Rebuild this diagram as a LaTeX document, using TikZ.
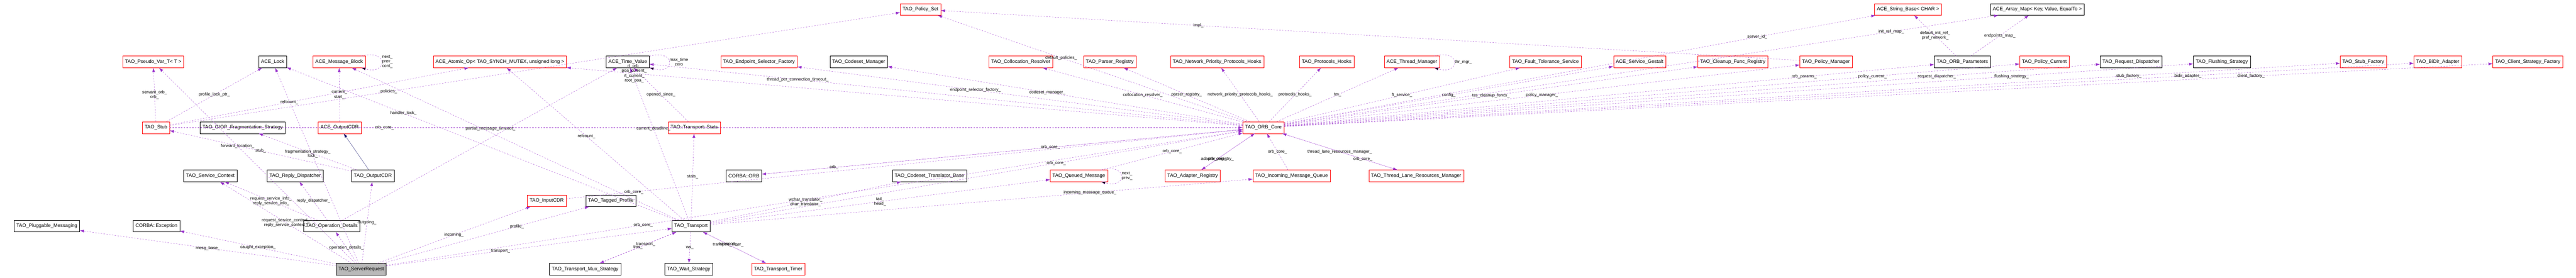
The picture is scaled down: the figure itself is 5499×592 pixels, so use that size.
\documentclass[tikz,border=0pt]{standalone}
\usepackage{fontspec}
\setmainfont{Liberation Sans}
\usetikzlibrary{arrows.meta}
\definecolor{edgepurple}{RGB}{153,50,204}
\definecolor{inhblue}{RGB}{25,25,112}
\tikzset{
  cls/.style={draw=black, fill=white, inner xsep=5pt, minimum height=25pt, font=\fontsize{10.5}{12}\selectfont},
  tcls/.style={cls, draw=red},
  focus/.style={cls, fill=gray!55},
  rel/.style={draw=edgepurple, dashed, -{Latex[length=9pt,width=6pt]}},
  inh/.style={draw=inhblue, -{Latex[length=9pt,width=6pt]}},
  lbl/.style={font=\fontsize{9}{10}\selectfont, align=center, inner sep=1pt}
}
\newcommand{\rel}[4][0.5]{\draw[rel] (#2) -- node[lbl, pos=#1]{#4} (#3);}
\begin{document}
\begin{tikzpicture}[x=1pt, y=-1pt]
  \useasboundingbox (0,0) rectangle (5499,592);
  % top row
  \node[tcls] (pset) at (1965,20) {TAO\_Policy\_Set};
  \node[tcls] (strbase) at (4073,20) {ACE\_String\_Base< CHAR >};
  \node[cls] (amap) at (4349,20) {ACE\_Array\_Map< Key, Value, EqualTo >};
  % second row
  \node[tcls] (pvar) at (327,132) {TAO\_Pseudo\_Var\_T< T >};
  \node[cls] (lock) at (582,132) {ACE\_Lock};
  \node[tcls] (mblk) at (724,132) {ACE\_Message\_Block};
  \node[tcls] (atomic) at (1067,132) {ACE\_Atomic\_Op< TAO\_SYNCH\_MUTEX, unsigned long >};
  \node[cls] (tval) at (1340,132) {ACE\_Time\_Value};
  \node[tcls] (esf) at (1620,132) {TAO\_Endpoint\_Selector\_Factory};
  \node[cls] (csmgr) at (1833,132) {TAO\_Codeset\_Manager};
  \node[tcls] (colres) at (2179,132) {TAO\_Collocation\_Resolver};
  \node[tcls] (preg) at (2369,132) {TAO\_Parser\_Registry};
  \node[tcls] (npph) at (2598,132) {TAO\_Network\_Priority\_Protocols\_Hooks};
  \node[tcls] (phooks) at (2832,132) {TAO\_Protocols\_Hooks};
  \node[tcls] (thrmgr) at (3014,132) {ACE\_Thread\_Manager};
  \node[tcls] (ftsvc) at (3299,132) {TAO\_Fault\_Tolerance\_Service};
  \node[tcls] (gestalt) at (3500,132) {ACE\_Service\_Gestalt};
  \node[tcls] (cleanup) at (3699,132) {TAO\_Cleanup\_Func\_Registry};
  \node[tcls] (pmgr) at (3898,132) {TAO\_Policy\_Manager};
  \node[cls] (oparams) at (4189,132) {TAO\_ORB\_Parameters};
  \node[tcls] (pcur) at (4364,132) {TAO\_Policy\_Current};
  \node[cls] (reqdisp) at (4549,132) {TAO\_Request\_Dispatcher};
  \node[cls] (flush) at (4743,132) {TAO\_Flushing\_Strategy};
  \node[tcls] (stubf) at (5045,132) {TAO\_Stub\_Factory};
  \node[tcls] (bidir) at (5204,132) {TAO\_BiDir\_Adapter};
  \node[tcls] (csf) at (5396,132) {TAO\_Client\_Strategy\_Factory};
  % third row
  \node[tcls] (stub) at (333,272) {TAO\_Stub};
  \node[cls] (frag) at (518,272) {TAO\_GIOP\_Fragmentation\_Strategy};
  \node[tcls] (aocdr) at (725,272) {ACE\_OutputCDR};
  \node[tcls] (stats) at (1482,272) {TAO::Transport::Stats};
  \node[tcls] (orbcore) at (2697,272) {TAO\_ORB\_Core};
  % fourth row
  \node[cls] (svcctx) at (449,375) {TAO\_Service\_Context};
  \node[cls] (rdisp) at (630,375) {TAO\_Reply\_Dispatcher};
  \node[cls] (ocdr) at (796,375) {TAO\_OutputCDR};
  \node[cls] (orb) at (1588,375) {CORBA::ORB};
  \node[cls] (cstb) at (1984,375) {TAO\_Codeset\_Translator\_Base};
  \node[tcls] (qmsg) at (2303,375) {TAO\_Queued\_Message};
  \node[tcls] (areg) at (2546,375) {TAO\_Adapter\_Registry};
  \node[tcls] (imq) at (2757,375) {TAO\_Incoming\_Message\_Queue};
  \node[tcls] (tlrm) at (3023,375) {TAO\_Thread\_Lane\_Resources\_Manager};
  \node[tcls] (icdr) at (1167,428) {TAO\_InputCDR};
  \node[cls] (tprof) at (1304,428) {TAO\_Tagged\_Profile};
  % fifth row
  \node[cls] (pmsg) at (100,482) {TAO\_Pluggable\_Messaging};
  \node[cls] (exc) at (334,482) {CORBA::Exception};
  \node[cls] (opdet) at (708,482) {TAO\_Operation\_Details};
  \node[cls] (transp) at (1475,482) {TAO\_Transport};
  % bottom row
  \node[focus] (sreq) at (771,574) {TAO\_ServerRequest};
  \node[cls] (mux) at (1249,574) {TAO\_Transport\_Mux\_Strategy};
  \node[cls] (wait) at (1470,574) {TAO\_Wait\_Strategy};
  \node[tcls] (timer) at (1661,574) {TAO\_Transport\_Timer};
  % server request members
  \rel{sreq}{pmsg}{mesg\_base\_}
  \rel{sreq}{exc}{caught\_exception\_}
  \rel[0.6]{sreq}{pvar}{forward\_location\_}
  \rel{sreq}{svcctx}{request\_service\_context\_\\reply\_service\_context\_}
  \rel{sreq}{opdet}{operation\_details\_}
  \rel{sreq}{ocdr}{outgoing\_}
  \rel{sreq}{icdr}{incoming\_}
  \rel[0.65]{sreq}{tprof}{profile\_}
  \rel[0.4]{sreq}{transp}{transport\_}
  \rel[0.3]{sreq}{orbcore}{orb\_core\_}
  \rel[0.55]{sreq}{lock}{lock\_}
  \rel{opdet}{svcctx}{request\_service\_info\_\\reply\_service\_info\_}
  \rel{opdet}{rdisp}{reply\_dispatcher\_}
  \rel[0.6]{opdet}{tval}{timeout\_}
  \draw[inh] (ocdr) -- (aocdr);
  \rel{ocdr}{stub}{stub\_}
  \rel{ocdr}{frag}{fragmentation\_strategy\_}
  \rel{stub}{pvar}{servant\_orb\_\\orb\_}
  \rel{stub}{lock}{profile\_lock\_ptr\_}
  \rel[0.4]{stub}{atomic}{refcount\_}
  \rel[0.3]{stub}{pset}{policies\_}
  \rel[0.2]{stub}{orbcore}{orb\_core\_}
  \rel{aocdr}{mblk}{current\_\\start\_}
  \path[rel] (mblk) edge[loop right, looseness=6] node[lbl, right]{next\_\\prev\_\\cont\_} (mblk);
  % transport members
  \rel[0.7]{transp}{lock}{handler\_lock\_}
  \rel[0.6]{transp}{mblk}{partial\_message\_}
  \rel[0.6]{transp}{tval}{current\_deadline\_}
  \rel[0.55]{transp}{atomic}{refcount\_}
  \rel{transp}{stats}{stats\_}
  \rel[0.65]{transp}{orbcore}{orb\_core\_}
  \rel{transp}{cstb}{wchar\_translator\_\\char\_translator\_}
  \rel{transp}{qmsg}{tail\_\\head\_}
  \rel[0.7]{transp}{imq}{incoming\_message\_queue\_}
  \rel{transp}{mux}{tms\_}
  \rel{transp}{wait}{ws\_}
  \rel[0.4]{transp}{timer}{transport\_timer\_}
  \rel[0.6]{timer}{transp}{transport\_}
  \rel[0.6]{mux}{transp}{transport\_}
  \rel{stats}{tval}{opened\_since\_}
  \path[rel] (tval) edge[loop right, looseness=6] node[lbl, right]{max\_time\\zero} (tval);
  % orb core members
  \rel[0.75]{orbcore}{tval}{thread\_per\_connection\_timeout\_}
  \rel[0.6]{orbcore}{esf}{endpoint\_selector\_factory\_}
  \rel[0.55]{orbcore}{csmgr}{codeset\_manager\_}
  \rel[0.6]{orbcore}{pset}{default\_policies\_}
  \rel{orbcore}{colres}{collocation\_resolver\_}
  \rel{orbcore}{preg}{parser\_registry\_}
  \rel{orbcore}{npph}{network\_priority\_protocols\_hooks\_}
  \rel{orbcore}{phooks}{protocols\_hooks\_}
  \rel{orbcore}{thrmgr}{tm\_}
  \path[rel] (thrmgr) edge[loop right, looseness=6] node[lbl, right]{thr\_mgr\_} (thrmgr);
  \rel{orbcore}{ftsvc}{ft\_service\_}
  \rel{orbcore}{gestalt}{config\_}
  \rel{orbcore}{cleanup}{tss\_cleanup\_funcs\_}
  \rel{orbcore}{pmgr}{policy\_manager\_}
  \rel[0.7]{pmgr}{pset}{impl\_}
  \rel[0.8]{orbcore}{strbase}{server\_id\_}
  \rel{oparams}{strbase}{default\_init\_ref\_\\pref\_network\_}
  \rel{oparams}{amap}{endpoints\_map\_}
  \rel[0.8]{orbcore}{oparams}{orb\_params\_}
  \rel[0.8]{orbcore}{pcur}{policy\_current\_}
  \rel[0.8]{orbcore}{reqdisp}{request\_dispatcher\_}
  \rel[0.8]{orbcore}{flush}{flushing\_strategy\_}
  \rel[0.85]{orbcore}{amap}{init\_ref\_map\_}
  \rel[0.8]{orbcore}{stubf}{stub\_factory\_}
  \rel[0.8]{orbcore}{bidir}{bidir\_adapter\_}
  \rel[0.8]{orbcore}{csf}{client\_factory\_}
  \rel[0.9]{orbcore}{atomic}{rt\_orb\_\\poa\_current\_\\rt\_current\_\\root\_poa\_}
  \rel[0.85]{orbcore}{orb}{orb\_}
  \rel[0.6]{orb}{orbcore}{orb\_core\_}
  \rel{orbcore}{tlrm}{thread\_lane\_resources\_manager\_}
  \rel[0.3]{tlrm}{orbcore}{orb\_core\_}
  \rel{qmsg}{orbcore}{orb\_core\_}
  \path[rel] (qmsg) edge[loop right, looseness=6] node[lbl, right]{next\_\\prev\_} (qmsg);
  \rel[0.3]{areg}{orbcore}{orb\_core\_}
  \rel[0.7]{orbcore}{areg}{adapter\_registry\_}
  \rel{imq}{orbcore}{orb\_core\_}
  \rel[0.1]{icdr}{orbcore}{orb\_core\_}
\end{tikzpicture}
\end{document}
